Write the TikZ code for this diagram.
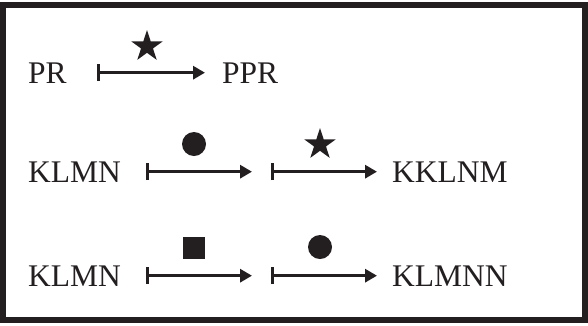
\documentclass[tikz,border=0pt]{standalone}
\usepackage{fontspec}
\setmainfont{Liberation Serif}
\usetikzlibrary{arrows.meta,shapes.geometric,positioning}
\definecolor{ink}{HTML}{231F20}
\definecolor{paper}{HTML}{FFFFFF}
\tikzset{
  frame/.style={draw=ink,fill=paper,line width=6pt},
  term/.style={inner sep=0pt,anchor=base west,text=ink,font=\fontsize{31.5}{38}\selectfont},
  mapsto/.style={{Bar[width=17pt]}-{Triangle[length=12pt,width=13pt]},line width=3pt,draw=ink},
  starmark/.style={star,star points=5,star point ratio=2.618,minimum size=33pt,inner sep=0pt,fill=ink},
  dotmark/.style={circle,minimum size=24pt,inner sep=0pt,fill=ink},
  boxmark/.style={rectangle,minimum size=22pt,inner sep=0pt,fill=ink}
}
\begin{document}
\begin{tikzpicture}[x=1pt,y=-1pt]
  \useasboundingbox (0,0) rectangle (588,325);
  \draw[frame] (3,5) rectangle (585,319.5);

  % first row
  \node[term] (pr) at (28,83) {PR};
  \node[term] (ppr) at (222,83) {PPR};
  \draw[mapsto,shorten <=30.5pt,shorten >=17pt] (pr) -- (ppr);
  \node[starmark] (s1) at (147,46.5) {};

  % second row
  \node[term] (klmnA) at (28,182) {KLMN};
  \node[term] (kklnm) at (392,182) {KKLNM};
  \coordinate (midA) at (261.5,0 |- klmnA);
  \draw[mapsto,shorten <=24.5pt,shorten >=9.5pt] (klmnA) -- (midA);
  \draw[mapsto,shorten <=9.5pt,shorten >=15pt] (midA) -- (kklnm);
  \node[dotmark] (d2) at (194,144) {};
  \node[starmark] (s2) at (320,144.5) {};

  % third row
  \node[term] (klmnB) at (28,286) {KLMN};
  \node[term] (klmnn) at (392,286) {KLMNN};
  \coordinate (midB) at (261.5,0 |- klmnB);
  \draw[mapsto,shorten <=24.5pt,shorten >=9.5pt] (klmnB) -- (midB);
  \draw[mapsto,shorten <=9.5pt,shorten >=15pt] (midB) -- (klmnn);
  \node[boxmark] (b3) at (194,247.5) {};
  \node[dotmark] (d3) at (320,247) {};
\end{tikzpicture}
\end{document}
